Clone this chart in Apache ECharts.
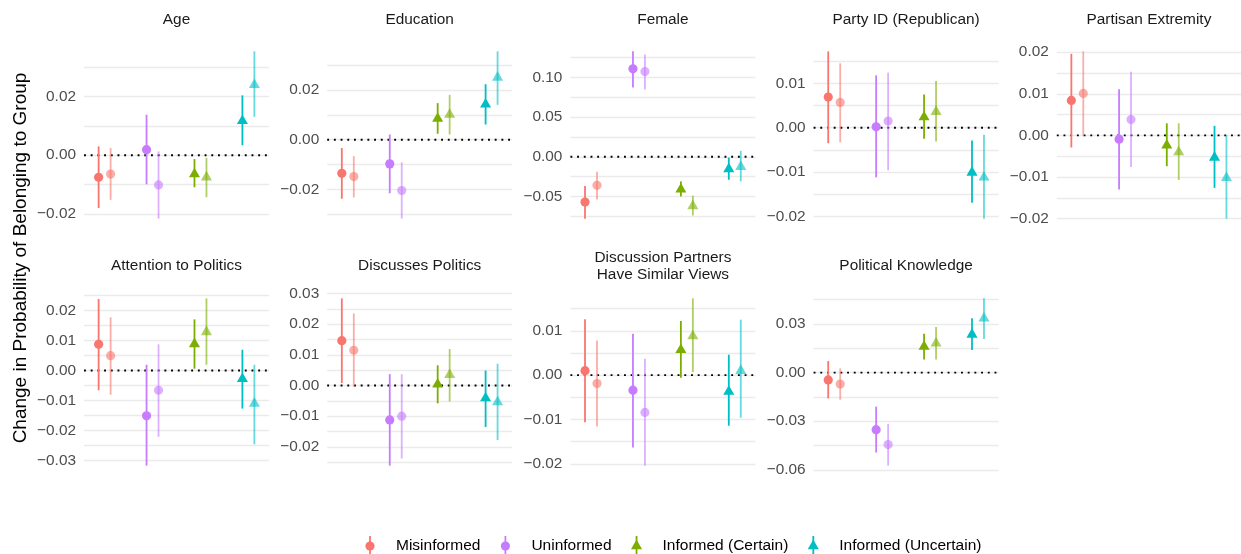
<!DOCTYPE html>
<html>
<head>
<meta charset="utf-8">
<title>Change in Probability of Belonging to Group</title>
<script src="https://cdn.jsdelivr.net/npm/echarts@6/dist/echarts.min.js"></script>
<style>
  html, body { margin: 0; padding: 0; background: #ffffff; }
  #chart { width: 1241px; height: 554px; }
</style>
</head>
<body>
<div id="chart"></div>
<script>
// Respondent groups, in legend order
const groups = ['Misinformed', 'Uninformed', 'Informed (Certain)', 'Informed (Uncertain)'];
const colors = ['#F8766D', '#C77CFF', '#7CAE00', '#00BFC4'];

const panelNames = [
  'Age', 'Education', 'Female', 'Party ID (Republican)', 'Partisan Extremity',
  'Attention to Politics', 'Discusses Politics', 'Discussion Partners\nHave Similar Views', 'Political Knowledge'
];

// Each row: [estimate, lower bound, upper bound]
// Order: Misinformed (model 1, model 2), Uninformed (1, 2), Informed Certain (1, 2), Informed Uncertain (1, 2)
const age = [
  [-0.0075, -0.0180, 0.0030], [-0.0064, -0.0152, 0.0025],
  [0.0019, -0.0099, 0.0138], [-0.0101, -0.0216, 0.0013],
  [-0.0064, -0.0109, -0.0013], [-0.0075, -0.0143, -0.0009],
  [0.0117, 0.0034, 0.0204], [0.0240, 0.0131, 0.0354]
];
const education = [
  [-0.0135, -0.0237, -0.0033], [-0.0148, -0.0232, -0.0066],
  [-0.0097, -0.0215, 0.0021], [-0.0204, -0.0317, -0.0091],
  [0.0085, 0.0024, 0.0147], [0.0101, 0.0021, 0.0180],
  [0.0142, 0.0061, 0.0223], [0.0250, 0.0140, 0.0355]
];
const female = [
  [-0.0570, -0.0780, -0.0367], [-0.0360, -0.0540, -0.0188],
  [0.1110, 0.0875, 0.1330], [0.1075, 0.0850, 0.1290],
  [-0.0410, -0.0500, -0.0310], [-0.0620, -0.0740, -0.0490],
  [-0.0154, -0.0290, -0.0010], [-0.0125, -0.0310, 0.0075]
];
const partyId = [
  [0.0069, -0.0035, 0.0172], [0.0057, -0.0033, 0.0145],
  [0.0002, -0.0112, 0.0118], [0.0015, -0.0096, 0.0124],
  [0.0024, -0.0025, 0.0075], [0.0036, -0.0031, 0.0105],
  [-0.0101, -0.0169, -0.0029], [-0.0112, -0.0205, -0.0016]
];
const partisanExtremity = [
  [0.0084, -0.0029, 0.0196], [0.0101, 0.0000, 0.0202],
  [-0.0009, -0.0130, 0.0111], [0.0038, -0.0076, 0.0153],
  [-0.0024, -0.0074, 0.0029], [-0.0040, -0.0107, 0.0029],
  [-0.0053, -0.0126, 0.0023], [-0.0102, -0.0200, 0.0000]
];
const attention = [
  [0.0087, -0.0066, 0.0238], [0.0049, -0.0081, 0.0177],
  [-0.0151, -0.0317, 0.0019], [-0.0066, -0.0221, 0.0087],
  [0.0088, 0.0006, 0.0170], [0.0128, 0.0019, 0.0240],
  [-0.0028, -0.0127, 0.0069], [-0.0110, -0.0246, 0.0019]
];
const discusses = [
  [0.0146, 0.0008, 0.0284], [0.0115, -0.0004, 0.0235],
  [-0.0112, -0.0261, 0.0037], [-0.0100, -0.0238, 0.0037],
  [0.0004, -0.0058, 0.0066], [0.0035, -0.0052, 0.0119],
  [-0.0041, -0.0135, 0.0049], [-0.0054, -0.0178, 0.0071]
];
const partners = [
  [0.0010, -0.0106, 0.0126], [-0.0019, -0.0116, 0.0078],
  [-0.0034, -0.0163, 0.0093], [-0.0084, -0.0204, 0.0037],
  [0.0057, -0.0006, 0.0122], [0.0088, 0.0007, 0.0173],
  [-0.0037, -0.0114, 0.0046], [0.0010, -0.0096, 0.0125]
];
const knowledge = [
  [-0.0045, -0.0159, 0.0071], [-0.0071, -0.0167, 0.0026],
  [-0.0352, -0.0493, -0.0210], [-0.0444, -0.0574, -0.0316],
  [0.0160, 0.0081, 0.0240], [0.0180, 0.0081, 0.0281],
  [0.0235, 0.0140, 0.0336], [0.0335, 0.0208, 0.0458]
];

// Labelled y ticks per panel
const ageTicks = [-0.02, 0, 0.02];
const educationTicks = [-0.02, 0, 0.02];
const femaleTicks = [-0.05, 0, 0.05, 0.10];
const partyIdTicks = [-0.02, -0.01, 0, 0.01];
const partisanTicks = [-0.02, -0.01, 0, 0.01, 0.02];
const attentionTicks = [-0.03, -0.02, -0.01, 0, 0.01, 0.02];
const discussesTicks = [-0.02, -0.01, 0, 0.01, 0.02, 0.03];
const partnersTicks = [-0.02, -0.01, 0, 0.01];
const knowledgeTicks = [-0.06, -0.03, 0, 0.03];

const panelData = [age, education, female, partyId, partisanExtremity, attention, discusses, partners, knowledge];
const panelTicks = [ageTicks, educationTicks, femaleTicks, partyIdTicks, partisanTicks,
  attentionTicks, discussesTicks, partnersTicks, knowledgeTicks];

const FONT = '"Liberation Sans", Arial, Helvetica, sans-serif';
const X_MIN = 0.57, X_MAX = 4.43, DODGE = 0.125;
const BAR_WIDTH = 1.8, CIRCLE_R = 4.6, TRI_H = 9.6;

function fmt(v) {
  const s = Math.abs(v).toFixed(2);
  return v < -1e-9 ? '\u2212' + s : s;
}
const round6 = v => Math.round(v * 1e6) / 1e6;

function symbolShape(g, cx, cy, color, opacity) {
  if (g < 2) {
    return { type: 'circle', shape: { cx: cx, cy: cy, r: CIRCLE_R }, style: { fill: color, opacity: opacity } };
  }
  const w = TRI_H * 2 / Math.sqrt(3);
  return {
    type: 'polygon',
    shape: { points: [[cx, cy - TRI_H * 2 / 3], [cx + w / 2, cy + TRI_H / 3], [cx - w / 2, cy + TRI_H / 3]] },
    style: { fill: color, opacity: opacity }
  };
}

// Draws one point-range: vertical interval plus a circle or triangle at the estimate
function renderItem(params, api) {
  const x = api.value(0), est = api.value(1), lo = api.value(2), hi = api.value(3);
  const variant = api.value(4), g = api.value(5);
  const p = api.coord([x, est]);
  const pTop = api.coord([x, hi]);
  const pBot = api.coord([x, lo]);
  const color = colors[g];
  const opacity = variant ? 0.6 : 1;
  return {
    type: 'group',
    children: [
      {
        type: 'line',
        shape: { x1: p[0], y1: pTop[1], x2: p[0], y2: pBot[1] },
        style: { stroke: color, lineWidth: BAR_WIDTH, opacity: opacity }
      },
      symbolShape(g, p[0], p[1], color, opacity)
    ]
  };
}

const grids = [], xAxes = [], yAxes = [], series = [], graphics = [];

panelNames.forEach((name, i) => {
  const row = Math.floor(i / 5), col = i % 5;
  const left = 84 + col * 243.2;
  const top = row === 0 ? 43 : 290;
  const width = Math.min(185, 1241 - left);
  const height = 184;
  grids.push({ left: left, top: top, width: width, height: height, outerBoundsMode: 'none', containLabel: false });

  const rows = panelData[i];
  const lo = Math.min(...rows.map(r => r[1]));
  const hi = Math.max(...rows.map(r => r[2]));
  const pad = (hi - lo) * 0.05;
  const yMin = lo - pad, yMax = hi + pad;

  const ticks = panelTicks[i];
  const step = ticks[1] - ticks[0];
  // major and minor grid positions inside the panel range
  const lines = [];
  let v = ticks[0] - Math.ceil((ticks[0] - yMin) / (step / 2)) * step / 2;
  for (; v <= yMax + 1e-9; v += step / 2) {
    if (v >= yMin - 1e-9) lines.push(round6(v));
  }

  xAxes.push({ gridIndex: i, type: 'value', min: X_MIN, max: X_MAX, show: false });
  yAxes.push({
    gridIndex: i, type: 'value', min: yMin, max: yMax,
    axisLine: { show: false },
    axisTick: { show: false, customValues: lines },
    splitLine: { show: true, lineStyle: { color: '#EBEBEB', width: 1.3 } },
    axisLabel: {
      customValues: ticks, formatter: fmt, color: '#4D4D4D',
      fontSize: 15.4, fontFamily: FONT, margin: 8
    }
  });

  // dotted reference line at zero
  series.push({
    type: 'line', name: 'zero', xAxisIndex: i, yAxisIndex: i,
    data: [[X_MIN, 0], [X_MAX, 0]], symbol: 'none', silent: true, z: 1,
    lineStyle: { color: '#000000', width: 1.9, type: [1.9, 4.8], cap: 'butt' }
  });

  groups.forEach((gname, g) => {
    series.push({
      type: 'custom', name: gname, xAxisIndex: i, yAxisIndex: i, z: 3,
      renderItem: renderItem,
      itemStyle: { color: colors[g] },
      data: [0, 1].map(k => {
        const r = rows[g * 2 + k];
        return [g + 1 + (k ? DODGE : -DODGE), r[0], r[1], r[2], k, g];
      })
    });
  });

  graphics.push({
    type: 'text', x: left + width / 2, y: row === 0 ? 19.5 : 266,
    style: {
      text: name, fill: '#1A1A1A', fontSize: 15.4, fontFamily: FONT, lineHeight: 16.5,
      align: 'center', verticalAlign: 'middle', textAlign: 'center', textVerticalAlign: 'middle'
    }
  });
});

// y-axis title shared by all panels
graphics.push({
  type: 'text', x: 21, y: 258, rotation: Math.PI / 2,
  style: {
    text: 'Change in Probability of Belonging to Group', fill: '#000000', fontSize: 19, fontFamily: FONT,
    align: 'center', verticalAlign: 'middle', textAlign: 'center', textVerticalAlign: 'middle'
  }
});

// Legend: key glyph (interval + symbol) followed by the group name
const LEGEND_FONT_SIZE = 15.5;
const measureCtx = document.createElement('canvas').getContext('2d');
measureCtx.font = LEGEND_FONT_SIZE + 'px ' + FONT;
let keyX = 370;
const keyY = 546;
groups.forEach((gname, g) => {
  graphics.push({
    type: 'group',
    children: [
      { type: 'line', shape: { x1: keyX, y1: keyY - 10, x2: keyX, y2: keyY + 10 },
        style: { stroke: colors[g], lineWidth: BAR_WIDTH } },
      symbolShape(g, keyX, keyY, colors[g], 1),
      { type: 'text', x: keyX + 26, y: keyY,
        style: { text: gname, fill: '#000000', fontSize: LEGEND_FONT_SIZE, fontFamily: FONT,
          align: 'left', verticalAlign: 'middle', textAlign: 'left', textVerticalAlign: 'middle' } }
    ]
  });
  keyX += 26 + measureCtx.measureText(gname).width + 25;
});

const chart = echarts.init(document.getElementById('chart'), null, { renderer: 'canvas' });
chart.setOption({
  animation: false,
  backgroundColor: '#ffffff',
  grid: grids,
  xAxis: xAxes,
  yAxis: yAxes,
  series: series,
  graphic: graphics
});
</script>
</body>
</html>
